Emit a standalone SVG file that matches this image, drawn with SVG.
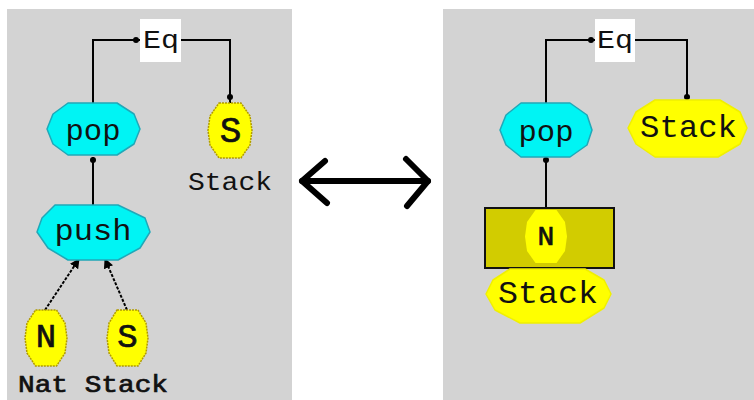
<svg xmlns="http://www.w3.org/2000/svg" width="754" height="400" viewBox="0 0 754 400">
<defs>
<style>
.panel{fill:#d3d3d3}
.op{fill:#00f4f4;stroke:#20a8b8;stroke-width:1.5;stroke-linejoin:round}
.hex{fill:#ffff00;stroke:#b09a00;stroke-width:1.5;stroke-dasharray:2 1;stroke-linejoin:round}
.blob{fill:#ffff00;stroke:#f0f000;stroke-width:1.5;stroke-linejoin:round}
.box{fill:#ffffff}
.t{font-family:"Liberation Mono","Courier New",monospace;fill:#111;text-anchor:middle}
.b{stroke:#111;stroke-width:0.7}
.wire{fill:none;stroke:#000;stroke-width:2}
.dot{fill:#000}
.thin{fill:none;stroke:#000;stroke-width:2;stroke-dasharray:3 1.5}
.big{fill:none;stroke:#000;stroke-width:6;stroke-linecap:round;stroke-linejoin:round}
</style>
<marker id="ah" viewBox="0 0 10 10" refX="9" refY="5" markerWidth="5" markerHeight="5" orient="auto" markerUnits="strokeWidth">
<path d="M0,0 L10,5 L0,10 z" fill="#000"/>
</marker>
</defs>
<rect x="0" y="0" width="754" height="400" fill="#ffffff"/>
<rect class="panel" x="7" y="9" width="285" height="391"/>
<rect class="panel" x="443" y="9" width="311" height="391"/>

<g id="connectors">
<path class="wire" d="M93,103 V40 H140"/>
<circle class="dot" cx="136" cy="40" r="3"/>
<path class="wire" d="M181,40 H230 V104"/>
<circle class="dot" cx="230" cy="97" r="3"/>
<path class="wire" d="M93,205 V157"/>
<circle class="dot" cx="93" cy="160" r="3"/>
<path class="thin" d="M45,310 L79,259" marker-end="url(#ah)"/>
<path class="thin" d="M127,310 L105,259" marker-end="url(#ah)"/>
<path class="wire" d="M546,103 V40 H595"/>
<circle class="dot" cx="591" cy="40" r="3"/>
<path class="wire" d="M635,40 H687 V100"/>
<circle class="dot" cx="687" cy="97" r="3"/>
<path class="wire" d="M546,208 V157"/>
<circle class="dot" cx="546" cy="160" r="3"/>
<g id="equiv">
<path class="big" d="M302,181 H428"/>
<path class="big" d="M325,161 L302,181 L327,203"/>
<path class="big" d="M406,159 L428,181 L407,206"/>
</g>
</g>

<g id="eq-left">
<rect class="box" x="140" y="19" width="41" height="43"/>
<text class="t" x="161" y="48" font-size="26" textLength="36" lengthAdjust="spacingAndGlyphs">Eq</text>
</g>
<g id="pop-left">
<polygon class="op" points="68,103 117,103 134,114 140,129 134,144 117,155 68,155 53,144 47,129 53,114"/>
<text class="t" x="93" y="140" font-size="30" textLength="55" lengthAdjust="spacingAndGlyphs">pop</text>
</g>
<g id="s-top">
<polygon class="hex" points="219,103 241,103 250,116 252,130.5 250,145 241,158 219,158 210,145 208,130.5 210,116"/>
<text class="t b" x="230.5" y="142" font-size="36">S</text>
</g>
<g id="stack-label-left">
<text class="t" x="230" y="190" font-size="26" textLength="84" lengthAdjust="spacingAndGlyphs">Stack</text>
</g>
<g id="push">
<polygon class="op" points="55,205 118,205 145,218 150,232 140,248 118,260 68,260 48,248 37,232 42,218"/>
<text class="t" x="93" y="240" font-size="30" textLength="77" lengthAdjust="spacingAndGlyphs">push</text>
</g>
<g id="n-bottom">
<polygon class="hex" points="35.5,310 56.5,310 65,323 67,338 65,353 56.5,366 35.5,366 27,353 25,338 27,323"/>
<text class="t b" x="46" y="347" font-size="34">N</text>
</g>
<g id="s-bottom">
<polygon class="hex" points="117,310 138,310 146,323 148,338 146,353 138,366 117,366 109,353 107,338 109,323"/>
<text class="t b" x="127.5" y="347" font-size="34">S</text>
</g>
<g id="nat-stack-label">
<text class="t b" x="93" y="392" font-size="24" textLength="150" lengthAdjust="spacingAndGlyphs">Nat Stack</text>
</g>

<g id="eq-right">
<rect class="box" x="595" y="19" width="40" height="43"/>
<text class="t" x="615" y="48" font-size="26" textLength="36" lengthAdjust="spacingAndGlyphs">Eq</text>
</g>
<g id="pop-right">
<polygon class="op" points="521,103 570,103 587,115 592,130 587,145 570,157 521,157 506,145 500,130 506,115"/>
<text class="t" x="546" y="141" font-size="30" textLength="55" lengthAdjust="spacingAndGlyphs">pop</text>
</g>
<g id="stack-right">
<polygon class="blob" points="655,100 720,100 740,112 747,128 740,144 718,157 655,157 636,144 628,128 636,112"/>
<text class="t" x="688.5" y="137" font-size="32" textLength="97" lengthAdjust="spacingAndGlyphs">Stack</text>
</g>
<g id="n-box">
<rect x="485" y="208" width="129" height="60" fill="#d2cc00" stroke="#111" stroke-width="2"/>
<polygon points="535.5,210 556.5,210 565,222 567,236.5 565,251 556.5,263 535.5,263 527,251 525,236.5 527,222" fill="#ffff00"/>
<text class="t b" x="546" y="245" font-size="28">N</text>
</g>
<g id="stack-bottom">
<polygon class="blob" points="510,269 585,269 604,280 611,294 604,308 580,323 520,323 495,310 486,294 493,280"/>
<text class="t" x="548" y="303" font-size="32" textLength="100" lengthAdjust="spacingAndGlyphs">Stack</text>
</g>
</svg>
